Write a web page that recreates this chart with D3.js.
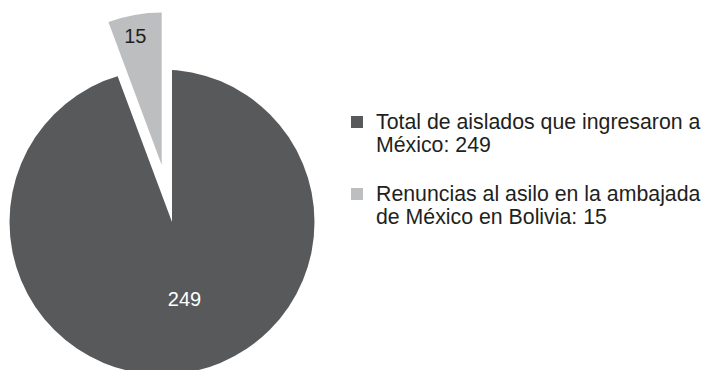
<html>
    <head>
        <meta charset="utf-8">
        <script src="https://d3js.org/d3.v7.min.js"></script>
        <style>
        body { margin: 0; background: #fff; }
        text { font-family: "Liberation Sans", Arial, Helvetica, sans-serif; }
        </style>
    </head>
    <body>
        <svg id="pie" width="704" height="370"></svg>
        <script>
            const categories = ["Total de aislados que ingresaron a México", "Renuncias al asilo en la ambajada de México en Bolivia"];
            const values = [249, 15];
            const legendLines = [
                ["Total de aislados que ingresaron a", "México: 249"],
                ["Renuncias al asilo en la ambajada", "de México en Bolivia: 15"]
            ];
            const colors = ["#58595b", "#bcbec0"];
            const labelColors = ["#ffffff", "#231f20"];

            const svg = d3.select('svg#pie');
            const cx = 172, cy = 222;
            const radius = 152.5;
            const explode = 58;

            const pie = d3.pie().sort(null).value(d => d);
            const arcs = pie(values);

            const colorScale = d3.scaleOrdinal().domain(categories).range(colors);

            // the big slice's round edge sits a bit left of its point
            svg.append('clipPath').attr('id', 'bigclip')
                .append('circle')
                .attr('cx', cx - 10).attr('cy', cy).attr('r', radius);

            const bigArc = d3.arc().innerRadius(0).outerRadius(radius + 50);
            const smallArc = d3.arc().innerRadius(0).outerRadius(radius);

            svg.append('g')
                .attr('clip-path', 'url(#bigclip)')
                .append('path')
                .attr('d', bigArc(arcs[0]))
                .attr('transform', `translate(${cx},${cy})`)
                .style('fill', colorScale(categories[0]));

            const mid = (arcs[1].startAngle + arcs[1].endAngle) / 2;
            const sx = cx + Math.sin(mid) * explode;
            const sy = cy - Math.cos(mid) * explode;

            svg.append('path')
                .attr('d', smallArc(arcs[1]))
                .attr('transform', `translate(${sx},${sy})`)
                .style('fill', colorScale(categories[1]));

            // value labels
            svg.append('text')
                .attr('x', cx + 12.5).attr('y', cy + 84)
                .attr('text-anchor', 'middle')
                .attr('font-size', '20px')
                .attr('fill', labelColors[0])
                .text(values[0]);

            const smallLabel = d3.arc().innerRadius(126).outerRadius(126);
            const c = smallLabel.centroid(arcs[1]);
            svg.append('text')
                .attr('x', sx + c[0] - 4).attr('y', sy + c[1] + 2)
                .attr('text-anchor', 'middle')
                .attr('font-size', '20px')
                .attr('fill', labelColors[1])
                .text(values[1]);

            // legend
            const legend = svg.append('g').attr('transform', 'translate(351,116)');
            legendLines.forEach((lines, i) => {
                const g = legend.append('g').attr('transform', `translate(0,${i * 72})`);
                g.append('rect')
                    .attr('width', 12).attr('height', 12)
                    .style('fill', colors[i]);
                lines.forEach((line, j) => {
                    g.append('text')
                        .attr('x', 25).attr('y', 13.3 + j * 22.5)
                        .attr('font-size', '21.3px')
                        .attr('fill', '#231f20')
                        .text(line);
                });
            });
        </script>
    </body>
</html>
